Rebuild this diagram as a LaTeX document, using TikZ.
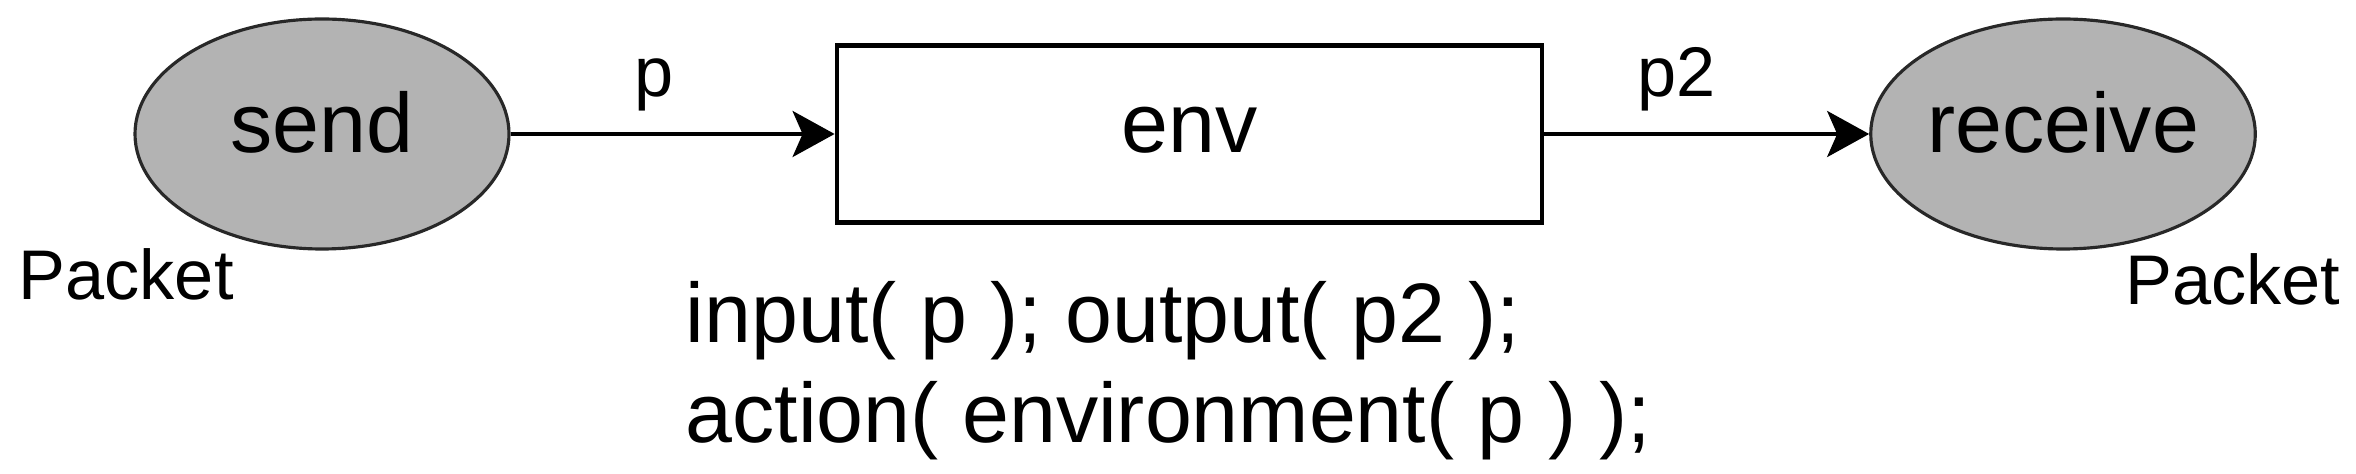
\documentclass[tikz,border=0pt]{standalone}
\usepackage{fontspec}
\setmainfont{Liberation Sans}
\usetikzlibrary{shapes.geometric, arrows.meta, positioning}

\definecolor{placegray}{RGB}{179,179,179}
\definecolor{placeline}{RGB}{40,40,40}

\tikzset{
  placenode/.style={ellipse, draw=placeline, line width=0.9pt, fill=placegray,
    minimum width=3.74cm, minimum height=2.3cm, inner sep=0pt,
    font=\fontsize{24}{28}\selectfont, text height=0.5cm, text depth=0.12cm},
  transnode/.style={rectangle, draw, line width=1.3pt,
    minimum width=7.05cm, minimum height=1.77cm, inner sep=0pt,
    font=\fontsize{24}{28}\selectfont, text height=0.5cm, text depth=0.12cm},
  flow/.style={-{Stealth[length=0.42cm, width=0.46cm, inset=0.1cm]}, line width=1.1pt},
  arclabel/.style={inner sep=0pt, font=\fontsize{20}{24}\selectfont},
  typelabel/.style={inner sep=0pt, font=\fontsize{20}{24}\selectfont},
  codelabel/.style={inner sep=0pt, align=left, font=\fontsize{24}{28.4}\selectfont}
}

\begin{document}
\begin{tikzpicture}
\useasboundingbox (0,0) rectangle (23.56,-4.74);

\node[placenode] (send) at (3.22,-1.34) {send};
\node[transnode] (env) [right=3.24cm of send] {env};
\node[placenode] (receive) [right=3.25cm of env] {receive};

% place types
\node[typelabel, anchor=base west] (sendtype) at (0.18,-3.00) {Packet};
\node[typelabel, anchor=base east] (receivetype) at (23.41,-3.05) {Packet};

% arcs
\draw[flow] (send) -- node[arclabel, pos=0.444, above=0.21cm] (plabel) {p} (env);
\draw[flow] (env) -- node[arclabel, pos=0.406, above=0.21cm] (ptwolabel) {p2} (receive);

% inscription of env
\node[codelabel, anchor=base west] (envcode) at (6.85,-4.42)
  {input( p ); output( p2 );\\action( environment( p ) );};

\end{tikzpicture}
\end{document}
